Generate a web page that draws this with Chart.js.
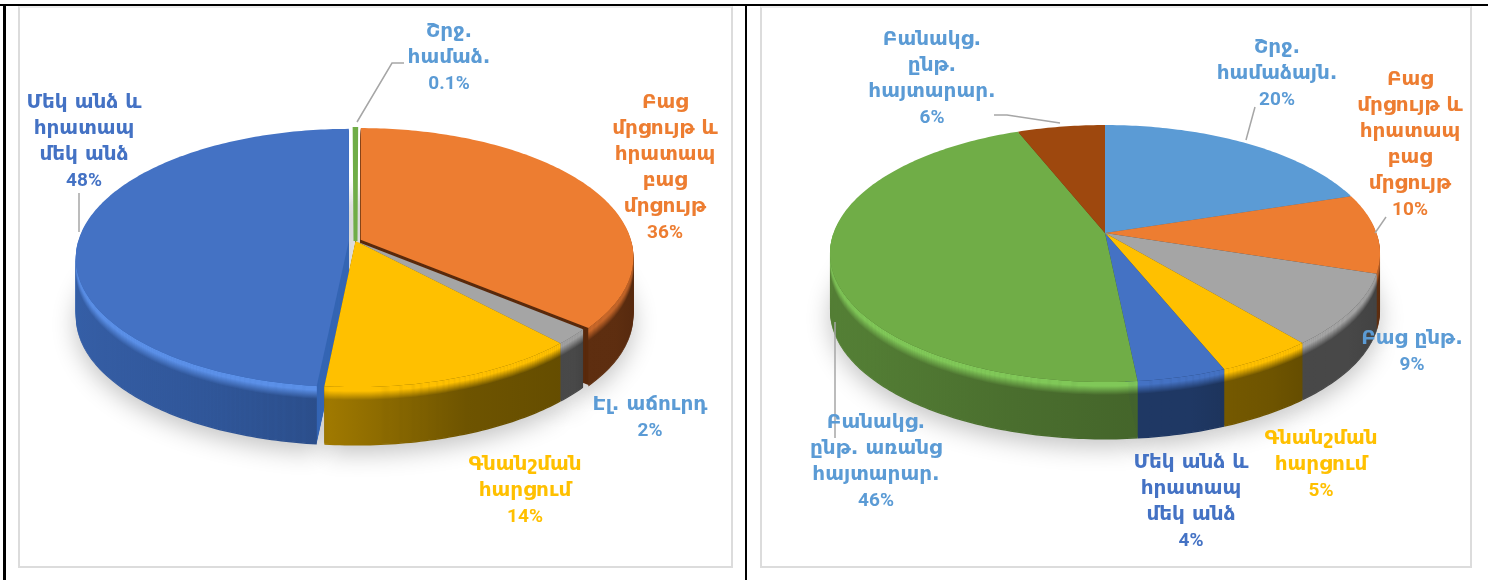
<!DOCTYPE html>
<html>
<head>
<meta charset="utf-8">
<script src="https://cdn.jsdelivr.net/npm/chart.js@4"></script>
<style>
	html, body { margin: 0; padding: 0; background: #fff; overflow: hidden; }
	#page { position: relative; width: 1488px; height: 580px; }
	.line { position: absolute; background: #000; }
	.panel { position: absolute; box-sizing: border-box; border: 2px solid #dcdcdc; border-top-color: #ececec; }
	canvas { position: absolute; top: 0; }
</style>
</head>
<body>
<div id="page">
	<div class="panel" style="left:18px;top:6px;width:715px;height:562px"></div>
	<div class="panel" style="left:760px;top:6px;width:712px;height:562px"></div>
	<div class="line" style="left:0;top:4px;width:1488px;height:2px"></div>
	<div class="line" style="left:3px;top:4px;width:3px;height:576px"></div>
	<div class="line" style="left:745px;top:4px;width:2px;height:576px"></div>
	<canvas id="chartLeft" width="745" height="580" style="left:0"></canvas>
	<canvas id="chartRight" width="743" height="580" style="left:745px"></canvas>
</div>
<script>
// left chart
const leftLabels = [["Շրջ.", "համաձ."], ["Բաց", "մրցույթ և", "հրատապ", "բաց", "մրցույթ"], ["Էլ. աճուրդ"], ["Գնանշման", "հարցում"], ["Մեկ անձ և", "հրատապ", "մեկ անձ"]];
const leftValues = [0.1, 36, 2, 13.6, 48.4];

// right chart
const rightLabels = [["Շրջ.", "համաձայն."], ["Բաց", "մրցույթ և", "հրատապ", "բաց", "մրցույթ"], ["Բաց ընթ."], ["Գնանշման", "հարցում"], ["Մեկ անձ և", "հրատապ", "մեկ անձ"], ["Բանակց.", "ընթ. առանց", "հայտարար."], ["Բանակց.", "ընթ.", "հայտարար."]];
const rightValues = [20, 10, 9, 4.9, 4.49, 45.61, 6];

const lightBlue = "#5B9BD5", orange = "#ED7D31", gray = "#A5A5A5", yellow = "#FFC000", blue = "#4472C4", green = "#70AD47", brown = "#9E480E";

function hexToRgb(c) {
	return [parseInt(c.slice(1, 3), 16), parseInt(c.slice(3, 5), 16), parseInt(c.slice(5, 7), 16)];
}

function mix(a, b, f) {
	var x = hexToRgb(a), y = hexToRgb(b);
	return "#" + x.map(function (v, i) {
		return Math.round(v + (y[i] - v) * f).toString(16).padStart(2, "0");
	}).join("");
}

// the library lays out the pie, this plugin only tilts its arcs and adds the thickness
const tiltedPie = {
	id: "tiltedPie",
	beforeDatasetsDraw: function (chart, args, opts) {
		var ctx = chart.ctx;
		var arcs = chart.getDatasetMeta(0).data;
		var k = opts.k;

		function project(u, v) {
			var w = 1 - k * v;
			return [opts.x0 + opts.radius * u / w, opts.y0 + opts.a * v / w];
		}

		function shift(arc) {
			var o = arc.options.offset / arc.outerRadius;
			var mid = (arc.startAngle + arc.endAngle) / 2;
			return [Math.cos(mid) * o, Math.sin(mid) * o];
		}

		function wedge(arc, dy) {
			var o = shift(arc);
			var steps = Math.max(2, Math.ceil((arc.endAngle - arc.startAngle) * 60));
			var p = project(o[0], o[1]);
			ctx.beginPath();
			ctx.moveTo(p[0], p[1] + dy);
			for (var i = 0; i <= steps; i++) {
				var t = arc.startAngle + (arc.endAngle - arc.startAngle) * i / steps;
				p = project(o[0] + Math.cos(t), o[1] + Math.sin(t));
				ctx.lineTo(p[0], p[1] + dy);
			}
			ctx.closePath();
		}

		// front part of the outer edge of a slice
		function rimPoints(arc) {
			var o = shift(arc);
			var pts = [];
			var steps = Math.max(2, Math.ceil((arc.endAngle - arc.startAngle) * 60));
			for (var i = 0; i <= steps; i++) {
				var t = arc.startAngle + (arc.endAngle - arc.startAngle) * i / steps;
				if (Math.sin(t) > 0) {
					pts.push(project(o[0] + Math.cos(t), o[1] + Math.sin(t)));
				}
			}
			return pts;
		}

		// soft shadow under the whole pie
		ctx.save();
		ctx.shadowColor = "rgba(0,0,0,0.24)";
		ctx.shadowBlur = 24;
		ctx.shadowOffsetY = 9;
		ctx.fillStyle = "#fff";
		arcs.forEach(function (arc) {
			wedge(arc, opts.depth);
			ctx.fill();
		});
		ctx.restore();

		// cut faces first, far slices first
		var order = arcs.map(function (a, i) { return i; }).sort(function (a, b) {
			return Math.sin((arcs[a].startAngle + arcs[a].endAngle) / 2) - Math.sin((arcs[b].startAngle + arcs[b].endAngle) / 2);
		});
		order.forEach(function (i) {
			ctx.fillStyle = opts.faceColors[i];
			for (var t = opts.depth; t >= 1; t--) {
				wedge(arcs[i], t);
				ctx.fill();
			}
		});

		// outer walls with the rounded top edge
		arcs.forEach(function (arc, i) {
			var pts = rimPoints(arc);
			if (pts.length < 2) return;
			var base = arc.options.backgroundColor;
			var wall = opts.wallColors[i];
			var glow = opts.glowColors[i];
			var left = mix(wall, base, opts.wallLift[i]);
			var right = mix(wall, "#000000", 0.08);
			var xs = pts.map(function (p) { return p[0]; });
			var lo = Math.min.apply(null, xs), hi = Math.max.apply(null, xs);
			for (var t = opts.depth; t >= 0; t--) {
				var f = t < 3 ? 0 : Math.min(1, (t - 3) / (opts.bevel - 3));
				var g = ctx.createLinearGradient(lo, 0, hi + 1, 0);
				g.addColorStop(0, mix(glow, left, f));
				g.addColorStop(0.6, mix(glow, wall, f));
				g.addColorStop(1, mix(glow, right, f));
				ctx.fillStyle = g;
				ctx.beginPath();
				pts.forEach(function (p, n) {
					if (n == 0) ctx.moveTo(p[0], p[1] + t); else ctx.lineTo(p[0], p[1] + t);
				});
				for (var n = pts.length - 1; n >= 0; n--) {
					ctx.lineTo(pts[n][0], pts[n][1] + t + 1.5);
				}
				ctx.closePath();
				ctx.fill();
			}
		});

		arcs.forEach(function (arc) {
			wedge(arc, 0);
			ctx.fillStyle = arc.options.backgroundColor;
			ctx.fill();
			if (arc.options.borderWidth > 0) {
				ctx.strokeStyle = arc.options.backgroundColor;
				ctx.lineWidth = arc.options.borderWidth;
				ctx.stroke();
			}
		});

		// leader lines
		ctx.strokeStyle = "#A6A6A6";
		ctx.lineWidth = 1.5;
		opts.leaders.forEach(function (pts) {
			ctx.beginPath();
			pts.forEach(function (p, i) {
				if (i == 0) ctx.moveTo(p[0], p[1]); else ctx.lineTo(p[0], p[1]);
			});
			ctx.stroke();
		});

		// data labels
		ctx.textAlign = "center";
		ctx.textBaseline = "middle";
		var values = chart.data.datasets[0].data;
		chart.data.labels.forEach(function (lines, i) {
			var spot = opts.spots[i];
			ctx.fillStyle = opts.labelColors[i];
			ctx.font = "bold 20px 'DejaVu Sans'";
			lines.forEach(function (line, n) {
				ctx.fillText(line, spot[0], spot[1] + n * opts.lineGap);
			});
			ctx.font = "bold 19px Roboto";
			var pct = values[i] < 1 ? values[i] : Math.round(values[i]);
			ctx.fillText(pct + "%", spot[0], spot[1] + lines.length * opts.lineGap);
		});
		return false;
	},
};

function drawPie(id, labels, values, colors, extra, tilt) {
	new Chart(document.getElementById(id), {
		type: "pie",
		data: {
			labels: labels,
			datasets: [{
				data: values,
				backgroundColor: colors,
				offset: extra.offset,
				borderWidth: extra.borderWidth,
			}],
		},
		options: {
			responsive: false,
			animation: false,
			rotation: extra.rotation,
			plugins: {
				legend: { display: false },
				tooltip: { enabled: false },
				tiltedPie: tilt,
			},
		},
		plugins: [tiltedPie],
	});
}

drawPie("chartLeft", leftLabels, leftValues, [green, orange, gray, yellow, blue],
	{ offset: [0, 6, 0, 0, 7], borderWidth: [4, 0, 0, 0, 0], rotation: -0.2 },
	{
		k: 0.132, a: 126.8, x0: 355.5, y0: 241, radius: 270.6, depth: 57, bevel: 12, lineGap: 26,
		wallColors: ["#3f6a2a", "#5e2e10", "#484848", "#6e5400", "#2f5597"],
		glowColors: ["#70AD47", "#c9682a", "#a0a0a0", "#ffc000", "#5b90e8"],
		faceColors: ["#2f5020", "#5a2a0c", "#555555", "#6e5400", "#3566b4"],
		wallLift: [0, 0, 0, 0.35, 0.28],
		labelColors: [lightBlue, orange, lightBlue, yellow, blue],
		spots: [[449, 32], [665, 103], [650, 405], [525, 465], [84, 103]],
		leaders: [[[357, 122], [392, 63], [404, 63]], [[79, 193], [79, 232]]],
	});

drawPie("chartRight", rightLabels, rightValues, [lightBlue, orange, gray, yellow, blue, green, brown],
	{ offset: [0, 0, 0, 0, 0, 0, 0], borderWidth: [0, 0, 0, 0, 0, 0, 0], rotation: 0 },
	{
		k: 0.1597, a: 125.2, x0: 360, y0: 233, radius: 271.5, depth: 56, bevel: 12, lineGap: 26,
		wallColors: ["#2e6da4", "#5e2e10", "#484848", "#6e5400", "#1f3864", "#4a6e2e", "#5e2e10"],
		glowColors: [lightBlue, "#c9682a", "#a5a5a5", "#ffc000", "#4472C4", "#80c858", brown],
		faceColors: ["#2e6da4", "#5e2e10", "#484848", "#6e5400", "#1f3864", "#4a6e2e", "#5e2e10"],
		wallLift: [0, 0, 0, 0.05, 0, 0.3, 0],
		labelColors: [lightBlue, orange, lightBlue, yellow, blue, lightBlue, lightBlue],
		spots: [[532, 48], [665, 80], [667, 339], [576, 439], [446, 463], [131, 423], [187, 40]],
		leaders: [[[501, 140], [510, 107]], [[630, 233], [641, 217]], [[249, 115], [262, 115], [315, 123]], [[90, 322], [90, 438]]],
	});
</script>
</body>
</html>
